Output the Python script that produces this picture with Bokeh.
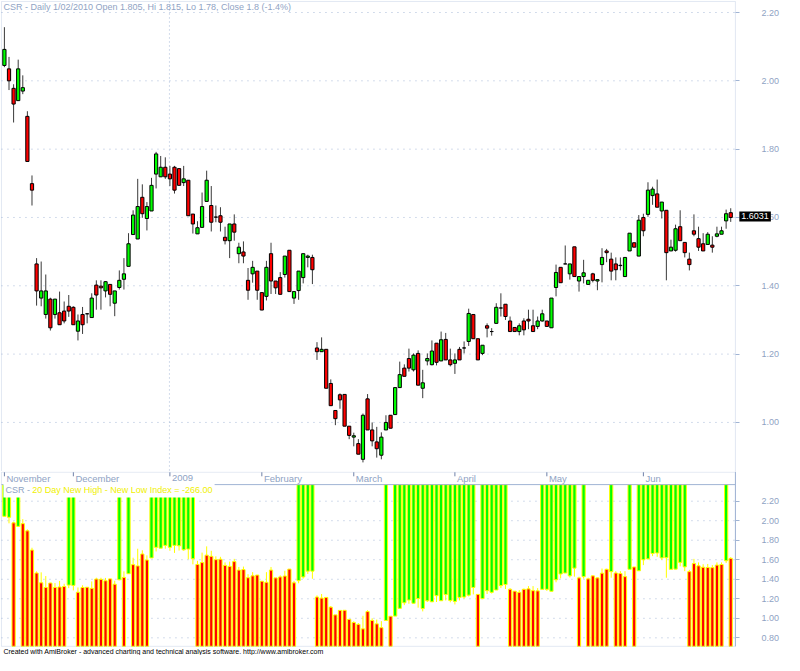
from bokeh.plotting import figure
from bokeh.layouts import column
from bokeh.models import (Range1d, FixedTicker, Label, ColumnDataSource, PrintfTickFormatter,
                          BoxAnnotation)
from bokeh.embed import file_html
from bokeh.resources import INLINE
from bokeh.core.properties import value

# ---------------- data ----------------
opens = [2.045, 2.035, 1.978, 1.942, 1.970, 1.896, 1.699, 1.464, 1.364, 1.316,
         1.361, 1.316, 1.321, 1.326, 1.340, 1.337, 1.267, 1.316, 1.318, 1.307,
         1.402, 1.399, 1.385, 1.404, 1.349, 1.395, 1.419, 1.457, 1.550, 1.537,
         1.659, 1.597, 1.619, 1.727, 1.719, 1.747, 1.727, 1.747, 1.743, 1.702,
         1.709, 1.610, 1.552, 1.571, 1.647, 1.635, 1.601, 1.605, 1.542, 1.532,
         1.581, 1.494, 1.499, 1.416, 1.435, 1.443, 1.380, 1.369, 1.494, 1.414,
         1.424, 1.433, 1.504, 1.364, 1.386, 1.424, 1.483, 1.483, 1.218, 1.207,
         1.214, 1.114, 1.035, 1.081, 1.082, 0.989, 0.957, 0.938, 0.892, 1.069,
         0.978, 0.943, 0.904, 0.978, 1.021, 1.023, 1.102, 1.159, 1.187, 1.154,
         1.202, 1.100, 1.180, 1.169, 1.232, 1.180, 1.243, 1.183, 1.173, 1.214,
         1.218, 1.237, 1.316, 1.245, 1.202, 1.283, 1.266, 1.290, 1.335, 1.346,
         1.297, 1.278, 1.266, 1.297, 1.302, 1.283, 1.281, 1.297, 1.297, 1.277,
         1.395, 1.454, 1.464, 1.435, 1.514, 1.414, 1.427, 1.404, 1.435, 1.414,
         1.462, 1.502, 1.478, 1.464, 1.459, 1.427, 1.502, 1.526, 1.487, 1.600,
         1.609, 1.664, 1.669, 1.619, 1.621, 1.502, 1.504, 1.573, 1.527, 1.478,
         1.561, 1.538, 1.523, 1.521, 1.519, 1.545, 1.551, 1.590, 1.614]
highs = [2.157, 2.070, 1.990, 2.062, 2.016, 1.911, 1.723, 1.481, 1.471, 1.433,
         1.365, 1.361, 1.383, 1.354, 1.373, 1.340, 1.316, 1.338, 1.320, 1.378,
         1.416, 1.416, 1.414, 1.404, 1.385, 1.445, 1.481, 1.554, 1.621, 1.713,
         1.697, 1.645, 1.716, 1.792, 1.780, 1.776, 1.751, 1.751, 1.743, 1.751,
         1.709, 1.610, 1.589, 1.673, 1.737, 1.692, 1.635, 1.630, 1.573, 1.581,
         1.609, 1.526, 1.530, 1.452, 1.473, 1.443, 1.380, 1.473, 1.526, 1.414,
         1.440, 1.487, 1.504, 1.383, 1.443, 1.494, 1.491, 1.491, 1.235, 1.249,
         1.214, 1.126, 1.035, 1.085, 1.082, 0.989, 0.970, 0.951, 1.026, 1.083,
         1.000, 0.987, 0.971, 1.021, 1.021, 1.102, 1.178, 1.170, 1.216, 1.202,
         1.211, 1.154, 1.202, 1.240, 1.232, 1.266, 1.262, 1.216, 1.202, 1.221,
         1.237, 1.333, 1.316, 1.245, 1.226, 1.290, 1.276, 1.349, 1.378, 1.346,
         1.310, 1.278, 1.290, 1.305, 1.330, 1.330, 1.310, 1.330, 1.297, 1.364,
         1.462, 1.454, 1.518, 1.464, 1.514, 1.427, 1.476, 1.416, 1.438, 1.418,
         1.510, 1.508, 1.497, 1.483, 1.483, 1.483, 1.554, 1.526, 1.607, 1.611,
         1.703, 1.690, 1.711, 1.645, 1.621, 1.535, 1.579, 1.621, 1.527, 1.497,
         1.609, 1.573, 1.554, 1.557, 1.545, 1.573, 1.573, 1.623, 1.627]
lows = [2.040, 1.973, 1.878, 1.942, 1.961, 1.764, 1.635, 1.342, 1.340, 1.304,
        1.269, 1.304, 1.286, 1.290, 1.309, 1.286, 1.240, 1.259, 1.290, 1.307,
        1.330, 1.330, 1.366, 1.340, 1.311, 1.389, 1.389, 1.457, 1.550, 1.537,
        1.599, 1.562, 1.619, 1.685, 1.719, 1.713, 1.692, 1.670, 1.694, 1.692,
        1.605, 1.553, 1.552, 1.571, 1.647, 1.559, 1.586, 1.559, 1.521, 1.481,
        1.532, 1.466, 1.466, 1.359, 1.409, 1.359, 1.329, 1.357, 1.376, 1.376,
        1.375, 1.424, 1.383, 1.347, 1.359, 1.407, 1.454, 1.405, 1.183, 1.207,
        1.100, 1.049, 0.992, 1.040, 0.989, 0.951, 0.930, 0.907, 0.883, 0.978,
        0.930, 0.897, 0.892, 0.978, 0.983, 1.023, 1.102, 1.135, 1.149, 1.149,
        1.109, 1.071, 1.167, 1.167, 1.167, 1.180, 1.183, 1.164, 1.142, 1.183,
        1.202, 1.224, 1.245, 1.183, 1.197, 1.249, 1.254, 1.290, 1.310, 1.300,
        1.266, 1.266, 1.255, 1.255, 1.273, 1.266, 1.273, 1.295, 1.281, 1.277,
        1.369, 1.409, 1.464, 1.418, 1.427, 1.383, 1.407, 1.404, 1.410, 1.387,
        1.410, 1.469, 1.416, 1.416, 1.445, 1.427, 1.502, 1.513, 1.487, 1.545,
        1.602, 1.637, 1.630, 1.597, 1.416, 1.502, 1.500, 1.532, 1.483, 1.445,
        1.545, 1.502, 1.502, 1.521, 1.497, 1.542, 1.551, 1.567, 1.587]
closes = [2.092, 2.000, 1.932, 2.035, 1.980, 1.764, 1.680, 1.385, 1.385, 1.385,
          1.277, 1.361, 1.286, 1.297, 1.326, 1.286, 1.297, 1.286, 1.318, 1.364,
          1.373, 1.394, 1.412, 1.375, 1.385, 1.416, 1.435, 1.523, 1.607, 1.632,
          1.611, 1.632, 1.694, 1.786, 1.747, 1.719, 1.713, 1.680, 1.694, 1.713,
          1.605, 1.581, 1.570, 1.632, 1.709, 1.586, 1.601, 1.586, 1.532, 1.581,
          1.557, 1.513, 1.487, 1.387, 1.454, 1.387, 1.329, 1.454, 1.414, 1.394,
          1.375, 1.487, 1.383, 1.383, 1.443, 1.494, 1.487, 1.447, 1.207, 1.214,
          1.100, 1.049, 1.011, 1.066, 0.989, 0.962, 0.961, 0.907, 1.021, 0.978,
          0.946, 0.923, 0.957, 1.000, 0.983, 1.102, 1.140, 1.135, 1.159, 1.197,
          1.109, 1.116, 1.187, 1.209, 1.176, 1.242, 1.183, 1.169, 1.183, 1.183,
          1.218, 1.319, 1.245, 1.183, 1.226, 1.276, 1.266, 1.337, 1.335, 1.310,
          1.266, 1.266, 1.283, 1.271, 1.297, 1.266, 1.297, 1.318, 1.281, 1.364,
          1.439, 1.409, 1.464, 1.464, 1.427, 1.427, 1.438, 1.416, 1.416, 1.418,
          1.483, 1.497, 1.443, 1.447, 1.460, 1.483, 1.554, 1.513, 1.592, 1.561,
          1.680, 1.683, 1.630, 1.645, 1.497, 1.513, 1.567, 1.532, 1.497, 1.462,
          1.551, 1.513, 1.502, 1.551, 1.513, 1.552, 1.561, 1.611, 1.600]
# sign of the 20-day new high - new low index for each bar (G = positive, R = negative)
index_state = list("GGRG" + "R" * 10 + "GG" + "R" * 9 + "GRG" + "R" * 4 + "G" * 10 +
                   "R" * 22 + "G" * 4 + "R" * 15 + "GR" + "G" * 18 + "R" + "G" * 6 +
                   "R" * 7 + "G" * 8 + "RG" + "R" * 5 + "G" + "R" * 3 + "GR" +
                   "G" * 11 + "R" * 8 + "GR")
month_names = ["November", "December", "2009", "February", "March", "April", "May", "Jun"]
month_start = [0, 15, 36, 56, 76, 98, 118, 139]
price_ticks = [1.00, 1.20, 1.40, 1.60, 1.80, 2.00, 2.20]
ind_ticks = [0.80, 1.00, 1.20, 1.40, 1.60, 1.80, 2.00, 2.20]
year_line = 35.9
title_text = "CSR - Daily 1/02/2010 Open 1.805, Hi 1.815, Lo 1.78, Close 1.8 (-1.4%)"
ind_prefix = "CSR - "
ind_title = "20 Day New High - New Low Index = -266.00"
last_value = 1.6031
footer_text = "Created with AmiBroker - advanced charting and technical analysis software. http://www.amibroker.com"

# ---------------- geometry / style ----------------
FONT = "Liberation Sans"
BORDER = "#A0B4D4"
GRID = "#A8BAD8"
TXT = "#8FA3C4"
GREEN = "#00FF00"
RED = "#FF0000"
YELLOW = "#FFFF00"
S = 0.976            # page scale (784 x 655 page)
BAR_PX = 4.71        # bar spacing in unscaled pixels
W, H1, H2 = 784, 471, 184


def ix(ref_x):       # unscaled pixel x -> bar index
    return (ref_x - 4.0) / BAR_PX


XA, XB = ix(0), ix(W / S)
XL, XR = ix(1.0), ix(753.0)          # plot-area left / right edges


def pv(ref_y):       # unscaled pixel y -> price-panel value
    return 2.0 + (82.3 - ref_y) / 350.0


def iv(ref_y):       # unscaled pixel y -> indicator-panel value
    return 0.8 + (653.0 - ref_y) / 100.0


N = len(opens)
xs = list(range(N))
body_top = [max(o, c) for o, c in zip(opens, closes)]
body_bot = [min(o, c) for o, c in zip(opens, closes)]
body_col = [GREEN if c >= o else RED for o, c in zip(opens, closes)]
src = ColumnDataSource(dict(x=xs, o=opens, h=highs, l=lows, c=closes,
                            bt=body_top, bb=body_bot, col=body_col))

x_range = Range1d(XA, XB)


def make_fig(height, y0, y1):
    p = figure(width=W, height=height, x_range=x_range, y_range=Range1d(y0, y1),
               output_backend="svg", toolbar_location=None, x_axis_location=None,
               y_axis_location="right", min_border=0)
    p.outline_line_color = None
    p.background_fill_color = "white"
    p.border_fill_color = "white"
    p.xgrid.visible = False
    p.ygrid.visible = False
    return p


def style_axis(p, ticks):
    ax = p.yaxis[0]
    ax.fixed_location = XR
    ax.ticker = FixedTicker(ticks=ticks)
    ax.formatter = PrintfTickFormatter(format="%.2f")
    ax.axis_line_color = None
    ax.major_tick_line_color = BORDER
    ax.major_tick_out = 4
    ax.major_tick_in = 0
    ax.minor_tick_line_color = None
    ax.major_label_text_color = TXT
    ax.major_label_text_font = FONT
    ax.major_label_text_font_size = "9px"
    ax.major_label_standoff = 22
    # dotted horizontal grid restricted to the plot area
    p.segment(x0=[XL] * len(ticks), x1=[XR] * len(ticks), y0=ticks, y1=ticks,
              line_color=GRID, line_dash="1 5", line_width=1)


# ---------------- price panel ----------------
P_TOP, P_BOT = pv(0), pv(H1 / S)
p1 = make_fig(H1, P_BOT, P_TOP)
style_axis(p1, price_ticks)
p1.segment(x0=[year_line], x1=[year_line], y0=[pv(1)], y1=[P_BOT], line_color=GRID,
           line_dash="1 3")
p1.add_layout(BoxAnnotation(left=XL, right=XR, top=pv(1), bottom=P_BOT - 0.1,
                            fill_alpha=0, line_color=BORDER, line_width=1))

p1.segment(x0="x", y0="l", x1="x", y1="h", source=src, line_color="#3A3A3A", line_width=1)
p1.vbar(x="x", width=0.7, top="bt", bottom="bb", source=src, fill_color="col",
        line_color="black", line_width=1)

lab_extra = {}
if "padding" in Label.properties():
    lab_extra["padding"] = 2

p1.add_layout(Label(x=ix(3), y=pv(7), text=title_text, text_font=FONT,
                    text_font_size="9px", text_color=TXT, text_baseline="middle"))
p1.add_layout(Label(x=ix(757), y=last_value, text="1.6031", text_font=FONT,
                    text_font_size="9px", text_color="white", text_baseline="middle",
                    background_fill_color="black", **lab_extra))

# ---------------- indicator panel (with date strip and footer) ----------------
I_TOP, I_BOT = iv(H1 / S), iv((H1 + H2) / S)
STRIP_TOP, PANEL_TOP, PANEL_BOT = iv(483.3), iv(496.0), iv(661.7)
p2 = make_fig(H2, I_BOT, I_TOP)
style_axis(p2, ind_ticks)

g_x = [i for i in xs if index_state[i] == "G"]
r_x = [i for i in xs if index_state[i] == "R"]
p2.segment(x0=xs, y0=lows, x1=xs, y1=highs, line_color=YELLOW, line_width=1)
p2.vbar(x=g_x, width=0.7, top=PANEL_TOP, bottom=[opens[i] for i in g_x],
        fill_color=GREEN, line_color=YELLOW, line_width=1)
p2.vbar(x=r_x, width=0.7, top=[opens[i] for i in r_x], bottom=PANEL_BOT,
        fill_color=RED, line_color=YELLOW, line_width=1)

p2.add_layout(BoxAnnotation(left=XL, right=XR, top=STRIP_TOP, bottom=PANEL_BOT,
                            fill_alpha=0, line_color=BORDER, line_width=1))
p2.segment(x0=[XL], x1=[XR], y0=[PANEL_TOP], y1=[PANEL_TOP], line_color=BORDER)
p2.segment(x0=[XR], x1=[XR], y0=[PANEL_BOT], y1=[I_TOP], line_color=BORDER)

# month labels
p2.segment(x0=month_start, y0=[STRIP_TOP] * len(month_start), x1=month_start,
           y1=[iv(487.5)] * len(month_start), line_color="#6F80A8")
p2.text(x=[m + 0.45 for m in month_start], y=[iv(489.5)] * len(month_start), text=month_names,
        text_font=value(FONT), text_font_size=value("9.5px"), text_color=TXT,
        text_baseline="middle", text_align="left")

p2.add_layout(Label(x=ix(3), y=iv(502), text=ind_prefix, text_font=FONT,
                    text_font_size="9px", text_color=TXT, text_baseline="middle",
                    background_fill_color="white", **lab_extra))
p2.add_layout(Label(x=ix(30.5), y=iv(502), text=ind_title, text_font=FONT,
                    text_font_size="9px", text_color="#F0F000", text_baseline="middle",
                    background_fill_color="white", **lab_extra))
p2.add_layout(Label(x=ix(3), y=iv(667), text=footer_text, text_font=FONT,
                    text_font_size="7px", text_color="black", text_baseline="middle"))

layout = column(p1, p2)
open("out.html", "w").write(file_html(layout, INLINE))
